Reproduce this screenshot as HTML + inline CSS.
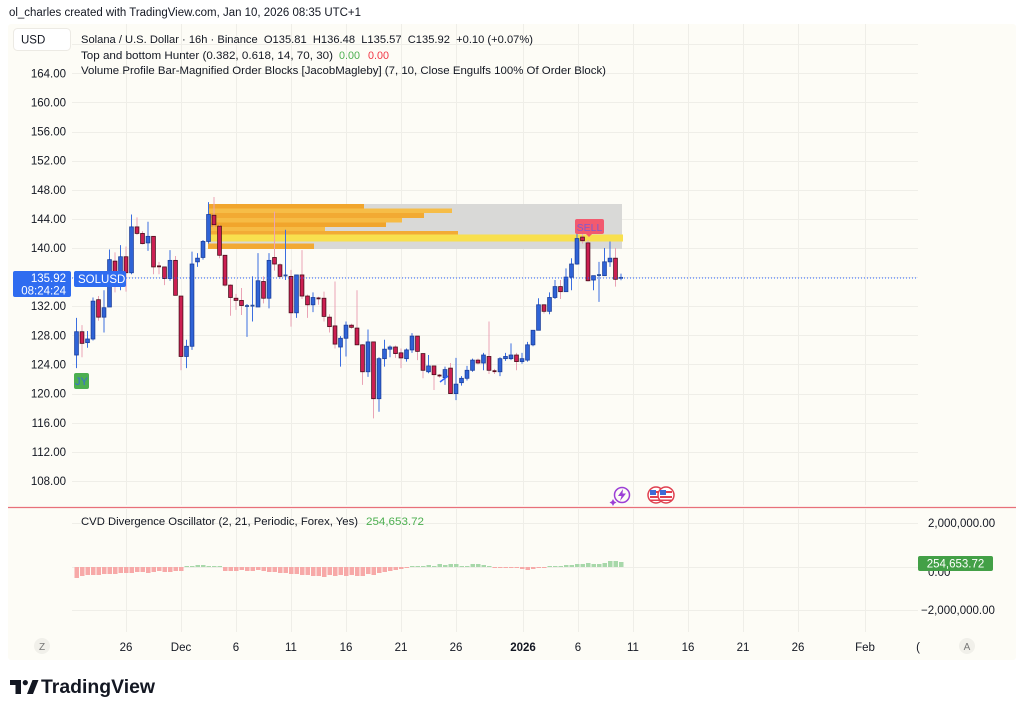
<!DOCTYPE html>
<html><head><meta charset="utf-8">
<style>
html,body{margin:0;padding:0;background:#fff;width:1024px;height:713px;overflow:hidden}
svg{display:block;font-family:"Liberation Sans",Arial,sans-serif}
.pre{white-space:pre}
</style></head><body>
<svg id="c" width="1024" height="713" viewBox="0 0 1024 713" xmlns="http://www.w3.org/2000/svg" xml:space="preserve">
<rect width="1024" height="713" fill="#ffffff"/>
<rect x="8" y="24" width="1008" height="636" rx="3" fill="#fdfcf6"/>
<g id="grid"></g>
<g id="ob">
<rect x="208" y="204" width="414" height="45" fill="#d9d9d7"/>
<rect x="208" y="204" width="156" height="4.5" fill="#f1a52c"/>
<rect x="208" y="208.5" width="244" height="4.5" fill="#f6bd47"/>
<rect x="208" y="213" width="216" height="5" fill="#f2aa33"/>
<rect x="208" y="218" width="194" height="4.5" fill="#f6bb44"/>
<rect x="208" y="222.5" width="178" height="4.5" fill="#f1a52c"/>
<rect x="208" y="227" width="117" height="4" fill="#f6bb44"/>
<rect x="208" y="231" width="250" height="3.5" fill="#f2ab35"/>
<rect x="208" y="234.5" width="415" height="7" fill="#f8e04e"/>
<rect x="208" y="243.5" width="106" height="5.5" fill="#f2a933"/>
</g>
<g id="candles"></g>
<g id="hist"></g>
<line x1="72" y1="278" x2="918" y2="278" stroke="#2962ff" stroke-width="1" stroke-dasharray="1,2"/>
<line x1="8" y1="507.5" x2="1016" y2="507.5" stroke="#e8707a" stroke-width="1.2"/>
<line x1="440" y1="382" x2="448" y2="376" stroke="#2962ff" stroke-width="1.5"/>

<rect x="575" y="219" width="29" height="15" rx="2" fill="#f25a6f"/>
<polygon points="586,234 592,234 589,237" fill="#f25a6f"/>
<text x="589.5" y="231" font-size="10.5" fill="#7d5bd0" text-anchor="middle">SELL</text>
<rect x="74" y="373" width="15" height="16" rx="2" fill="#4caf50"/>
<text x="75" y="385" font-size="11" fill="#3a6bd6">JY</text>

<text x="9" y="16" font-size="11.5" fill="#131722" textLength="352" lengthAdjust="spacingAndGlyphs">ol_charles created with TradingView.com, Jan 10, 2026 08:35 UTC+1</text>
<rect x="13.5" y="28.5" width="57" height="22" rx="4" fill="#ffffff" stroke="#eceae4"/>
<text x="21" y="43.5" font-size="11.5" fill="#131722">USD</text>
<text class="pre" x="81" y="43" font-size="11" fill="#131722" textLength="452" lengthAdjust="spacingAndGlyphs">Solana / U.S. Dollar · 16h · Binance  O135.81  H136.48  L135.57  C135.92  +0.10 (+0.07%)</text>
<text x="81" y="59" font-size="11" fill="#131722" textLength="252" lengthAdjust="spacingAndGlyphs">Top and bottom Hunter (0.382, 0.618, 14, 70, 30)</text>
<text x="339" y="59" font-size="11" fill="#4caf50" textLength="21" lengthAdjust="spacingAndGlyphs">0.00</text>
<text x="368" y="59" font-size="11" fill="#f23645" textLength="21" lengthAdjust="spacingAndGlyphs">0.00</text>
<text x="81" y="74" font-size="11" fill="#131722" textLength="525" lengthAdjust="spacingAndGlyphs">Volume Profile Bar-Magnified Order Blocks [JacobMagleby] (7, 10, Close Engulfs 100% Of Order Block)</text>

<g font-size="11.5" fill="#131722" text-anchor="end">
<text x="66" y="77.5">164.00</text>
<text x="66" y="106.5">160.00</text>
<text x="66" y="135.5">156.00</text>
<text x="66" y="164.5">152.00</text>
<text x="66" y="194">148.00</text>
<text x="66" y="223">144.00</text>
<text x="66" y="252">140.00</text>
<text x="66" y="310">132.00</text>
<text x="66" y="339.5">128.00</text>
<text x="66" y="368.5">124.00</text>
<text x="66" y="397.5">120.00</text>
<text x="66" y="427">116.00</text>
<text x="66" y="456">112.00</text>
<text x="66" y="485">108.00</text>
</g>
<rect x="13" y="271" width="58" height="26" rx="2" fill="#2f6cf0"/>
<text x="66" y="282" font-size="11.5" fill="#fff" text-anchor="end">135.92</text>
<text x="66" y="294.5" font-size="11.5" fill="#fff" text-anchor="end">08:24:24</text>
<rect x="74" y="271" width="52" height="16" rx="2" fill="#2f6cf0"/>
<text x="78" y="283" font-size="11.5" fill="#fff">SOLUSD</text>

<circle cx="622" cy="495" r="7.5" fill="#fdfcf6" stroke="#9c3fd6" stroke-width="1.5"/>
<polygon points="623,489 618,496 621.5,496 620,501 626,493.5 622.5,493.5" fill="#9c3fd6"/>
<polygon points="613,499 614.2,501.3 616.5,502.5 614.2,503.7 613,506 611.8,503.7 609.5,502.5 611.8,501.3" fill="#9c3fd6"/>
<g>
<circle cx="656" cy="495" r="8" fill="#fff" stroke="#e0404f" stroke-width="1.5"/>
<rect x="650" y="491" width="12" height="2" fill="#e0404f"/>
<rect x="650" y="496" width="12" height="2" fill="#e0404f"/>
<rect x="650" y="499.5" width="12" height="1.5" fill="#e0404f"/>
<rect x="650" y="490" width="6" height="5" fill="#3d6bd6"/>
<circle cx="666" cy="495" r="8" fill="#fff" stroke="#e0404f" stroke-width="1.5"/>
<rect x="660" y="491" width="12" height="2" fill="#e0404f"/>
<rect x="660" y="496" width="12" height="2" fill="#e0404f"/>
<rect x="660" y="499.5" width="12" height="1.5" fill="#e0404f"/>
<rect x="660" y="490" width="6" height="5" fill="#3d6bd6"/>
</g>

<text x="81" y="525" font-size="11" fill="#131722" textLength="277" lengthAdjust="spacingAndGlyphs">CVD Divergence Oscillator (2, 21, Periodic, Forex, Yes)</text>
<text x="366" y="525" font-size="11" fill="#4caf50" textLength="58" lengthAdjust="spacingAndGlyphs">254,653.72</text>
<g font-size="11.5" fill="#131722">
<text x="928" y="527">2,000,000.00</text>
<text x="928" y="576">0.00</text>
<text x="921" y="614">−2,000,000.00</text>
</g>
<rect x="918" y="556" width="75" height="15" rx="2" fill="#43a047"/>
<text x="955.5" y="567.5" font-size="11.5" fill="#fff" text-anchor="middle">254,653.72</text>

<g font-size="11.5" fill="#131722" text-anchor="middle">
<text x="126" y="651">26</text>
<text x="181" y="651">Dec</text>
<text x="236" y="651">6</text>
<text x="291" y="651">11</text>
<text x="346" y="651">16</text>
<text x="401" y="651">21</text>
<text x="456" y="651">26</text>
<text x="523" y="651" font-weight="bold">2026</text>
<text x="578" y="651">6</text>
<text x="633" y="651">11</text>
<text x="688" y="651">16</text>
<text x="743" y="651">21</text>
<text x="798" y="651">26</text>
<text x="865" y="651">Feb</text>
<text x="918" y="651">(</text>
</g>
<circle cx="42" cy="646" r="8" fill="#f1f0ea"/>
<text x="42" y="650" font-size="10" fill="#777" text-anchor="middle">Z</text>
<circle cx="967" cy="646" r="8" fill="#f1f0ea"/>
<text x="967" y="650" font-size="10" fill="#777" text-anchor="middle">A</text>

<g fill="#131722">
<rect x="10" y="680" width="11" height="5"/>
<rect x="15.5" y="680" width="5.5" height="14"/>
<circle cx="25.3" cy="682.6" r="2.6"/>
<polygon points="27,694 32.5,680 38.5,680 33,694"/>
</g>
<text x="41" y="693" font-size="19" font-weight="bold" fill="#131722" textLength="114" lengthAdjust="spacingAndGlyphs">TradingView</text>
</svg>
<script>
(function(){
var NS="http://www.w3.org/2000/svg";
function el(tag,a,p){var e=document.createElementNS(NS,tag);for(var k in a)e.setAttribute(k,a[k]);p.appendChild(e);return e;}
var grid=document.getElementById('grid'),cg=document.getElementById('candles'),hg=document.getElementById('hist');
function Y(p){return 248+(140-p)*7.28;}
for(var p=168;p>=108;p-=4){var y=Math.round(Y(p))+0.5;el('line',{x1:72,y1:y,x2:918,y2:y,stroke:'#efeee8','stroke-width':1},grid);}
[523.5,567.5,610.5].forEach(function(y){el('line',{x1:72,y1:y,x2:918,y2:y,stroke:'#efeee8','stroke-width':1},grid);});
[126,181,236,291,346,401,456,523,578,633,688,743,798,865].forEach(function(x){
 el('line',{x1:x+0.5,y1:24,x2:x+0.5,y2:505,stroke:'#efeee8','stroke-width':1},grid);
 el('line',{x1:x+0.5,y1:509,x2:x+0.5,y2:632,stroke:'#efeee8','stroke-width':1},grid);
});
var D=[[125.3,130.4,123.5,128.5],[128.5,129.4,125.0,126.9],[127.0,128.6,126.3,127.5],[127.5,133.2,127.3,132.7],[132.9,133.4,130.0,130.5],
[130.5,134.2,128.4,131.8],[131.9,139.8,131.9,138.4],[138.2,139.4,133.9,136.3],[136.7,140.4,134.2,138.8],[138.8,140.2,134.0,136.6],
[136.6,144.6,136.4,142.9],[142.9,144.2,141.8,142.0],[142.0,142.3,140.5,140.6],[140.7,143.6,139.6,141.6],[141.6,141.6,136.4,137.4],
[137.5,138.1,136.4,137.3],[137.4,137.4,134.9,135.8],[135.8,139.7,135.5,138.3],[138.3,138.9,133.5,133.5],[133.4,133.4,123.2,125.1],
[125.1,127.4,123.5,126.5],[126.5,139.5,126.0,137.8],[138.1,139.3,137.4,138.6],[138.7,141.1,138.4,140.9],[140.9,146.3,140.6,144.6],
[144.5,147.0,142.8,143.2],[143.0,143.2,138.6,139.0],[139.0,139.0,134.7,134.9],[134.9,135.0,130.7,133.2],[133.1,133.7,131.5,132.8],
[132.8,134.5,130.8,132.1],[132.0,132.3,127.8,132.05],[131.9,136.1,129.9,132.1],[131.9,139.3,131.9,135.5],[135.4,136.1,132.4,133.1],
[133.1,139.3,131.7,138.3],[138.7,145.0,136.9,137.8],[137.7,137.9,135.8,136.1],[136.1,142.5,135.6,136.25],[136.1,137.0,129.2,131.1],
[131.1,136.3,130.4,136.3],[136.3,139.7,133.0,133.4],[133.4,133.6,130.4,132.2],[132.2,133.9,131.2,133.2],[133.1,133.3,132.2,133.0],
[133.1,134.0,129.9,130.6],[130.5,130.9,128.4,129.2],[129.3,135.4,126.2,126.8],[126.4,127.9,123.7,127.6],[127.6,129.9,125.1,129.4],
[129.4,129.6,128.9,129.1],[129.0,134.2,126.7,126.7],[126.7,126.8,121.2,123.0],[123.0,128.8,122.3,127.1],[127.1,127.1,116.6,119.3],
[119.3,125.0,117.5,124.8],[124.8,127.4,123.7,126.1],[126.1,126.6,125.0,126.4],[126.4,126.6,124.9,125.5],[125.6,126.2,123.5,124.9],
[124.8,126.2,124.4,126.0],[126.0,128.3,125.6,127.9],[127.9,127.9,124.6,125.8],[125.5,125.5,122.1,123.2],[123.0,125.3,122.8,123.8],
[123.8,123.8,120.5,122.6],[122.5,122.7,122.2,122.4],[122.2,123.7,121.2,123.3],[123.5,124.2,120.0,120.0],[120.0,124.9,119.1,121.3],
[121.5,122.4,121.1,122.1],[122.1,123.8,121.8,123.2],[123.2,124.8,123.0,124.6],[124.6,124.8,124.0,124.2],[124.2,125.6,123.2,125.3],
[125.1,129.9,122.7,123.2],[123.1,123.4,122.7,123.0],[123.0,125.0,122.4,124.8],[124.8,125.6,124.5,125.1],[124.8,126.9,124.6,125.3],
[125.3,125.6,123.2,124.4],[124.4,125.6,124.1,124.8],[124.6,127.1,124.4,126.7],[126.7,128.7,126.5,128.7],[128.7,133.1,128.7,132.2],
[132.2,132.2,131.0,131.3],[131.3,133.9,130.9,133.2],[133.2,135.6,133.0,134.7],[134.7,135.6,133.0,134.0],[134.0,137.2,134.0,136.0],
[136.0,138.6,134.2,137.8],[137.8,142.2,137.7,141.3],[141.5,141.9,140.6,141.0],[140.7,141.1,135.4,135.5],[135.6,136.2,134.2,136.2],
[136.2,138.1,132.6,136.3],[136.2,140.0,136.2,138.1],[138.1,140.9,137.4,138.6],[138.6,140.0,134.7,135.7],[135.81,136.48,135.57,135.92]];
D.forEach(function(d,i){
 var x=76.5+i*5.5,o=d[0],h=d[1],l=d[2],c=d[3],up=c>=o;
 var wc=up?'#3b6ee0':'#eaa3b5';
 el('line',{x1:x,y1:Y(h),x2:x,y2:Y(l),stroke:wc,'stroke-width':1},cg);
 var yt=Y(Math.max(o,c)),yb=Y(Math.min(o,c)),hh=yb-yt;
 if(hh<1.5){el('rect',{x:x-2,y:yt-0.75,width:4,height:1.8,fill:up?'#2a4f9e':'#5a1020'},cg);}
 else el('rect',{x:x-1.9,y:yt,width:3.8,height:hh,fill:up?'#2f63d6':'#cc1f52',stroke:up?'#1c3f9c':'#4a0e1c','stroke-width':0.8},cg);
});
var H=[-11,-9,-8,-8,-8,-7,-7,-7,-6,-6,-6,-5,-5,-6,-5,-4,-5,-5,-4,-4,
1,1,2,2,1,1,1,
-4,-4,-4,-3,-4,-4,-3,-4,-5,
-5,-6,-6,-7,-7,-8,-8,-9,-9,-10,-8,-9,-8,
-9,-8,-9,-9,-7,-8,-6,-5,-4,-3,-2,-1,
1,1,1,2,1,
3,2,3,3,
1,1,
3,3,2,1,
-1,-1,-1,-1,-1,-2,-3,-2,-1,-1,1,
1,1,2,2,3,3,4,3,3,4,6,6,5];
H.forEach(function(v,i){
 var x=74.5+i*5.5;
 if(v>=0)el('rect',{x:x,y:567-v,width:4.5,height:v,fill:'#a8d8aa'},hg);
 else el('rect',{x:x,y:567,width:4.5,height:-v,fill:'#f7a9a8'},hg);
});
})();
</script>
</body></html>
